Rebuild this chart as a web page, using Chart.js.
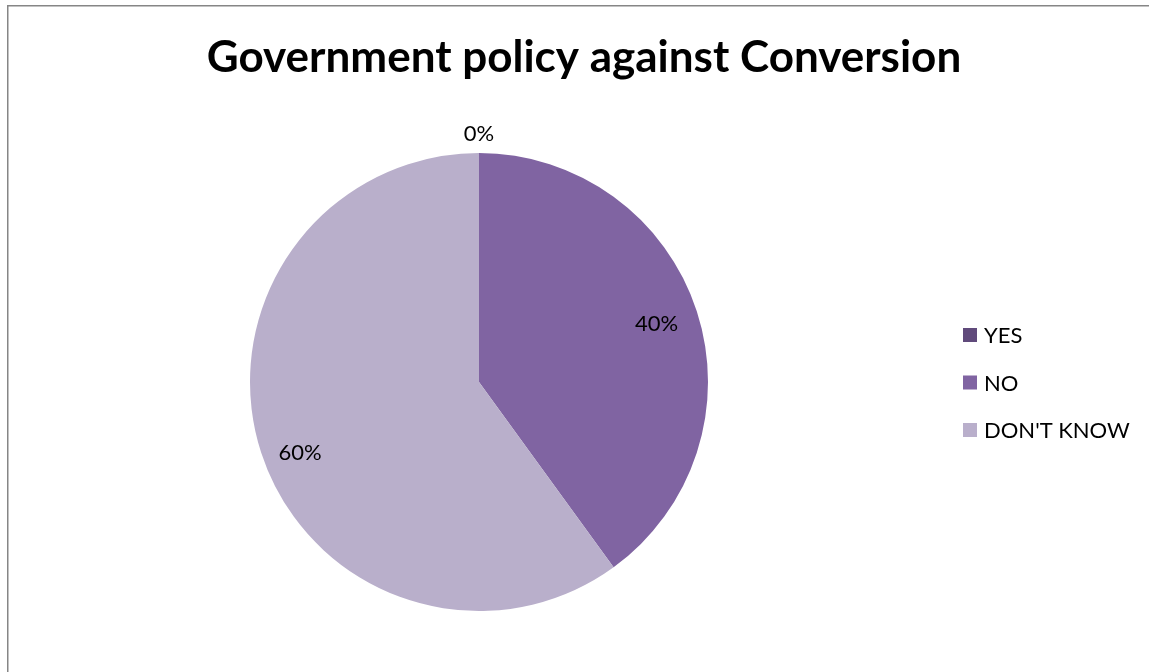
<!DOCTYPE html>
<html>
<head>
<meta charset="utf-8">
<style>
  html, body { margin: 0; padding: 0; background: #ffffff; }
  #wrap { position: relative; width: 1149px; height: 672px; }
  canvas { display: block; }
</style>
<script src="https://cdn.jsdelivr.net/npm/chart.js@4.4.1/dist/chart.umd.min.js"></script>
</head>
<body>
<div id="wrap"><canvas id="chart" width="1149" height="672"></canvas></div>
<script>
// Survey answers
const chartTitle = 'Government policy against Conversion';
const categories = ['YES', 'NO', "DON'T KNOW"];
const responses = [0, 40, 60];
const sliceColors = ['#604a7b', '#8064a2', '#b9afcb'];

const FONT = 'Lato, "Open Sans", sans-serif';

// Frame, title, legend and percentage labels
const decorations = {
  id: 'decorations',
  afterDraw(chart, args, opts) {
    const ctx = chart.ctx;
    const meta = chart.getDatasetMeta(0);
    const data = chart.data.datasets[0].data;
    const total = data.reduce((a, b) => a + b, 0);

    ctx.save();

    // outer frame
    ctx.strokeStyle = '#868686';
    ctx.lineWidth = 1.5;
    ctx.strokeRect(7.75, 5.75, chart.width + 20, chart.height + 20);

    // title
    ctx.fillStyle = '#000000';
    ctx.font = 'bold 44px ' + FONT;
    ctx.textAlign = 'center';
    ctx.textBaseline = 'alphabetic';
    ctx.fillText(chartTitle, 584, 72);

    // slice percentages
    ctx.font = '22px ' + FONT;
    ctx.textBaseline = 'middle';
    meta.data.forEach((arc, i) => {
      const v = data[i];
      const pct = Math.round(v / total * 100) + '%';
      const nudge = (opts.nudge && opts.nudge[i]) || {};
      const mid = (arc.startAngle + arc.endAngle) / 2 + (nudge.angle || 0) * Math.PI / 180;
      const r = v === 0 ? arc.outerRadius + 19 : arc.outerRadius * (nudge.radius || 0.815);
      const x = arc.x + Math.cos(mid) * r;
      const y = arc.y + Math.sin(mid) * r;
      ctx.fillText(pct, x, y);
    });

    // legend
    ctx.textAlign = 'left';
    ctx.font = '22px ' + FONT;
    chart.data.labels.forEach((label, i) => {
      const cy = 335 + i * 47.5;
      ctx.fillStyle = chart.data.datasets[0].backgroundColor[i];
      ctx.fillRect(963, cy - 7, 14, 14);
      ctx.fillStyle = '#000000';
      ctx.fillText(label, 984, cy + 1);
    });

    ctx.restore();
  }
};

new Chart(document.getElementById('chart'), {
  type: 'pie',
  data: {
    labels: categories,
    datasets: [{
      data: responses,
      backgroundColor: sliceColors,
      borderWidth: 0,
      hoverOffset: 0
    }]
  },
  options: {
    responsive: false,
    animation: false,
    layout: { padding: { top: 153, bottom: 61, left: 250, right: 441 } },
    plugins: {
      legend: { display: false },
      title: { display: false },
      tooltip: { enabled: false },
      decorations: { nudge: { 2: { angle: -3.5, radius: 0.84 } } }
    }
  },
  plugins: [decorations]
});
</script>
</body>
</html>
